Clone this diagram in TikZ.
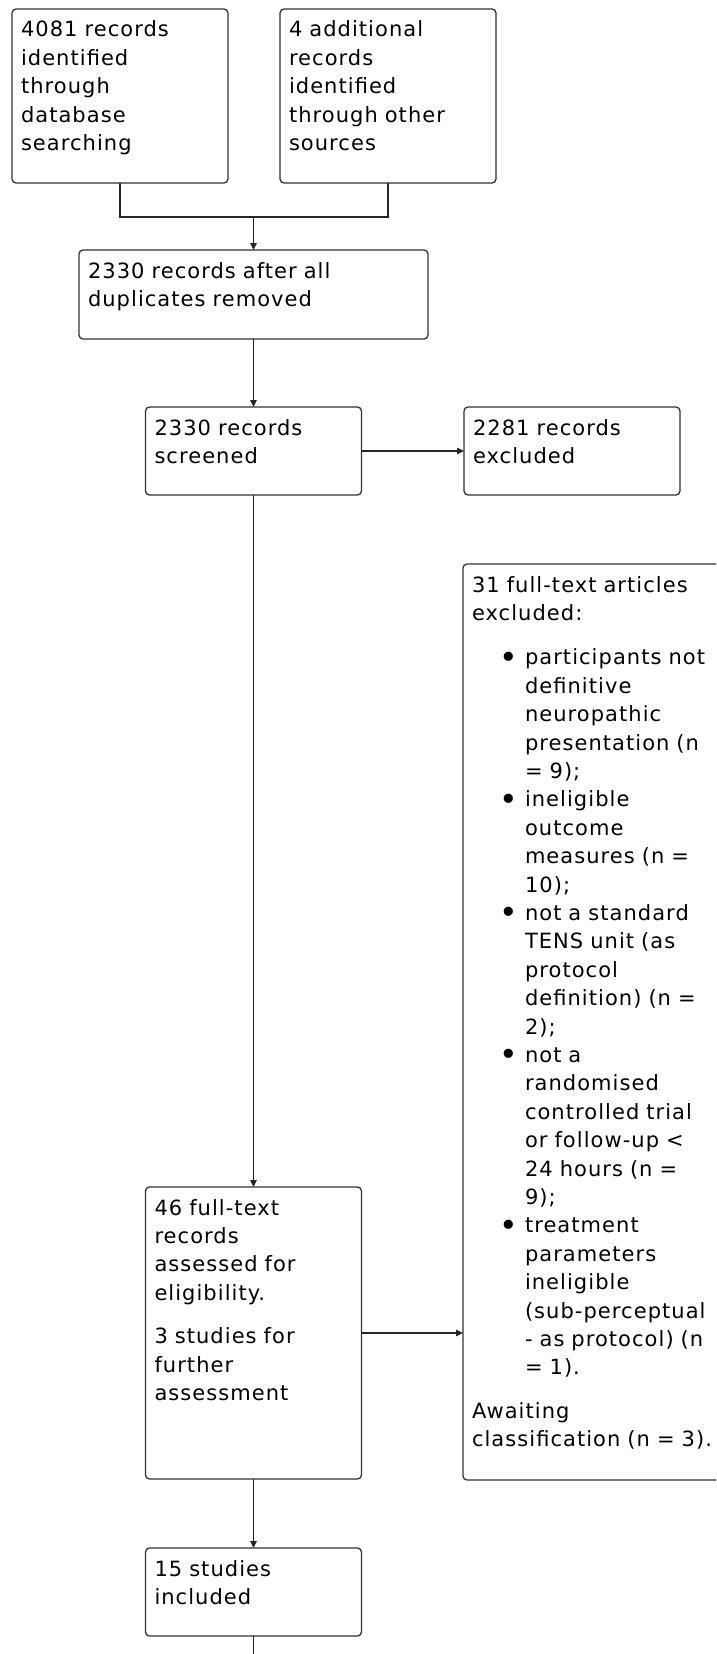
\documentclass[tikz,border=0pt]{standalone}
\usepackage{fontspec}
\setmainfont[LetterSpace=5]{DejaVu Sans}
\usetikzlibrary{arrows.meta}
\newlength{\exind}\setlength{\exind}{53pt}
\newcommand{\exitem}[1]{\par\hangindent=\exind\hangafter=0\noindent\llap{\raisebox{-3.5pt}{\scalebox{1.5}{\textbullet}}\hspace{7pt}}#1}

\tikzset{
	box/.style={draw=black!80, line width=1.3pt, rounded corners=4pt, anchor=north west,
		align=left, inner xsep=9pt, inner ysep=9pt, outer sep=0pt, text height=19pt,
		font=\fontsize{21pt}{28.4pt}\selectfont},
	conn/.style={draw=black!85, line width=1.2pt},
	arr/.style={conn, -{Triangle[length=7pt,width=6.5pt]}}
}

\begin{document}
\begin{tikzpicture}[x=1pt,y=-1pt]
				\useasboundingbox (0,0) rectangle (716,1654);
				\clip (0,0) rectangle (716,1654);
				
				% identification
				\node[box, text width=198pt, text depth=137pt] (db) at (12,9) {4081 records\\identified\\through\\database\\searching};
				\node[box, text width=198pt, text depth=137pt] (oth) at (280,9) {4 additional\\records\\identified\\through other\\sources};
				\node[box, text width=331pt, text depth=52pt] (dup) at (79,250) {2330 records after all\\duplicates removed};
				
				% screening
				\node[box, text width=198pt, text depth=51pt] (scr) at (145.5,407) {2330 records\\screened};
				\node[box, text width=198pt, text depth=51pt] (exc) at (464,407) {2281 records\\excluded};
				
				% eligibility
				\node[box, text width=198pt, text depth=255pt] (full) at (145.5,1187) {46 full-text\\records\\assessed for\\eligibility.\\[15pt]3 studies for\\further\\assessment};
				\node[box, text width=300pt, text depth=879pt] (ftex) at (463,564) {31 full-text articles\\excluded:\par\vspace{16pt}%
					\exitem{participants not\newline definitive\newline neuropathic\newline presentation (n\newline = 9);}%
					\exitem{ineligible\newline outcome\newline measures (n =\newline 10);}%
					\exitem{not a standard\newline TENS unit (as\newline protocol\newline definition) (n =\newline 2);}%
					\exitem{not a\newline randomised\newline controlled trial\newline or follow-up <\newline 24 hours (n =\newline 9);}%
					\exitem{treatment\newline parameters\newline ineligible\newline (sub-perceptual\newline - as protocol) (n\newline = 1).}%
					\par\vspace{15pt}\noindent Awaiting\newline classification (n = 3).};
				
				% included
				\node[box, text width=198pt, text depth=51pt] (inc) at (145.5,1548) {15 studies\\included};
				
				\coordinate (join) at (253.5,217);
				\coordinate (bot) at (253.5,1660);
				
				\draw[conn] (db.south) |- (join) -| (oth.south);
				\draw[arr] (join) -- (dup.north);
				\draw[arr] (dup.south) -- (scr.north);
				\draw[arr] (scr.east) -- (exc.west);
				\draw[arr] (scr.south) -- (full.north);
				\draw[arr] (full.east) -- (full.east -| ftex.west);
				\draw[arr] (full.south) -- (inc.north);
				\draw[conn] (inc.south) -- (inc.south |- bot);
			\end{tikzpicture}
\end{document}
